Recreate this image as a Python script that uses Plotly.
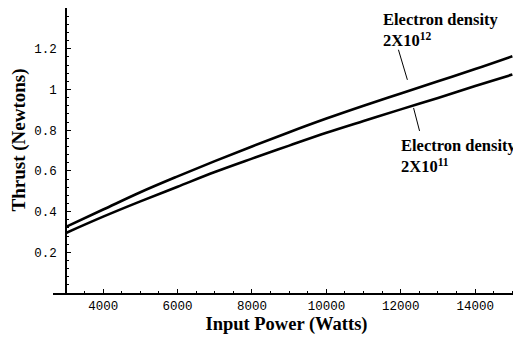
import plotly.graph_objects as go

power = [3000, 4000, 5000, 6000, 7000, 8000, 9000, 10000, 11000, 12000, 13000, 14000, 15000]
thrust_2e12 = [0.325, 0.41, 0.495, 0.573, 0.648, 0.72, 0.79, 0.857, 0.92, 0.98, 1.04, 1.10, 1.163]
thrust_2e11 = [0.295, 0.375, 0.45, 0.522, 0.594, 0.66, 0.724, 0.787, 0.845, 0.902, 0.958, 1.017, 1.073]

x_ticks = [4000, 6000, 8000, 10000, 12000, 14000]
y_ticks = [0.2, 0.4, 0.6, 0.8, 1.0, 1.2]
y_ticklabels = ["0.2", "0.4", "0.6", "0.8", "1", "1.2"]

fig = go.Figure()
for ys in (thrust_2e12, thrust_2e11):
    fig.add_trace(go.Scatter(x=power, y=ys, mode="lines",
                             line=dict(color="black", width=2.6, shape="spline"),
                             showlegend=False, hoverinfo="skip"))

mono = dict(family="Liberation Mono", size=12.5, color="black")
serif = "Liberation Serif"

# page has an 8px body margin, so the figure is 8px smaller than the window
fig.update_layout(
    width=513, height=329,
    margin=dict(l=45, r=1, t=0, b=44),
    paper_bgcolor="white", plot_bgcolor="white",
    xaxis=dict(range=[2651, 15205], tickvals=x_ticks, ticktext=[str(v) for v in x_ticks],
               automargin=False,
               showgrid=False, zeroline=False, showline=True, linecolor="black", linewidth=1.5,
               ticks="inside", ticklen=4, tickcolor="black", tickfont=mono, ticklabelstandoff=0,
               minor=dict(dtick=500, tick0=0, ticks="inside", ticklen=2, tickcolor="black"),
               title=dict(text="<b>Input Power (Watts)</b>", font=dict(family=serif, size=18.5, color="black"),
                          standoff=3)),
    yaxis=dict(range=[0, 1.40], tickvals=y_ticks, ticktext=y_ticklabels,
               anchor="free", position=0.0278, automargin=False,
               showgrid=False, zeroline=False, showline=True, linecolor="black", linewidth=1.5,
               ticks="inside", ticklen=4, tickcolor="black", tickfont=mono, ticklabelstandoff=6,
               minor=dict(dtick=0.04, tick0=0, ticks="inside", ticklen=2, tickcolor="black")),
)

# y-axis title (placed slightly above the plot centre, as in the reference)
fig.add_annotation(x=-0.0707, y=0.5386, xref="paper", yref="paper", xanchor="center", yanchor="middle",
                   text="<b>Thrust (Newtons)</b>", textangle=-90, showarrow=False,
                   font=dict(family=serif, size=19, color="black"))

# pointer lines
fig.add_shape(type="line", x0=11937, y0=1.195, x1=12178, y1=1.047, xref="x", yref="y",
              line=dict(color="black", width=1))
fig.add_shape(type="line", x0=12344, y0=0.909, x1=12505, y1=0.796, xref="x", yref="y",
              line=dict(color="black", width=1))

fig.add_annotation(x=11480, y=1.40, xref="x", yref="y", xanchor="left", yanchor="top",
                   text="<b>Electron density<br>2X10<sup>12</sup></b>", showarrow=False, align="left",
                   font=dict(family=serif, size=16.5, color="black"))
fig.add_annotation(x=11964, y=0.78, xref="x", yref="y", xanchor="left", yanchor="top",
                   text="<b>Electron density<br>2X10<sup>11</sup></b>", showarrow=False, align="left",
                   font=dict(family=serif, size=16.5, color="black"))

fig.write_html("out.html")
